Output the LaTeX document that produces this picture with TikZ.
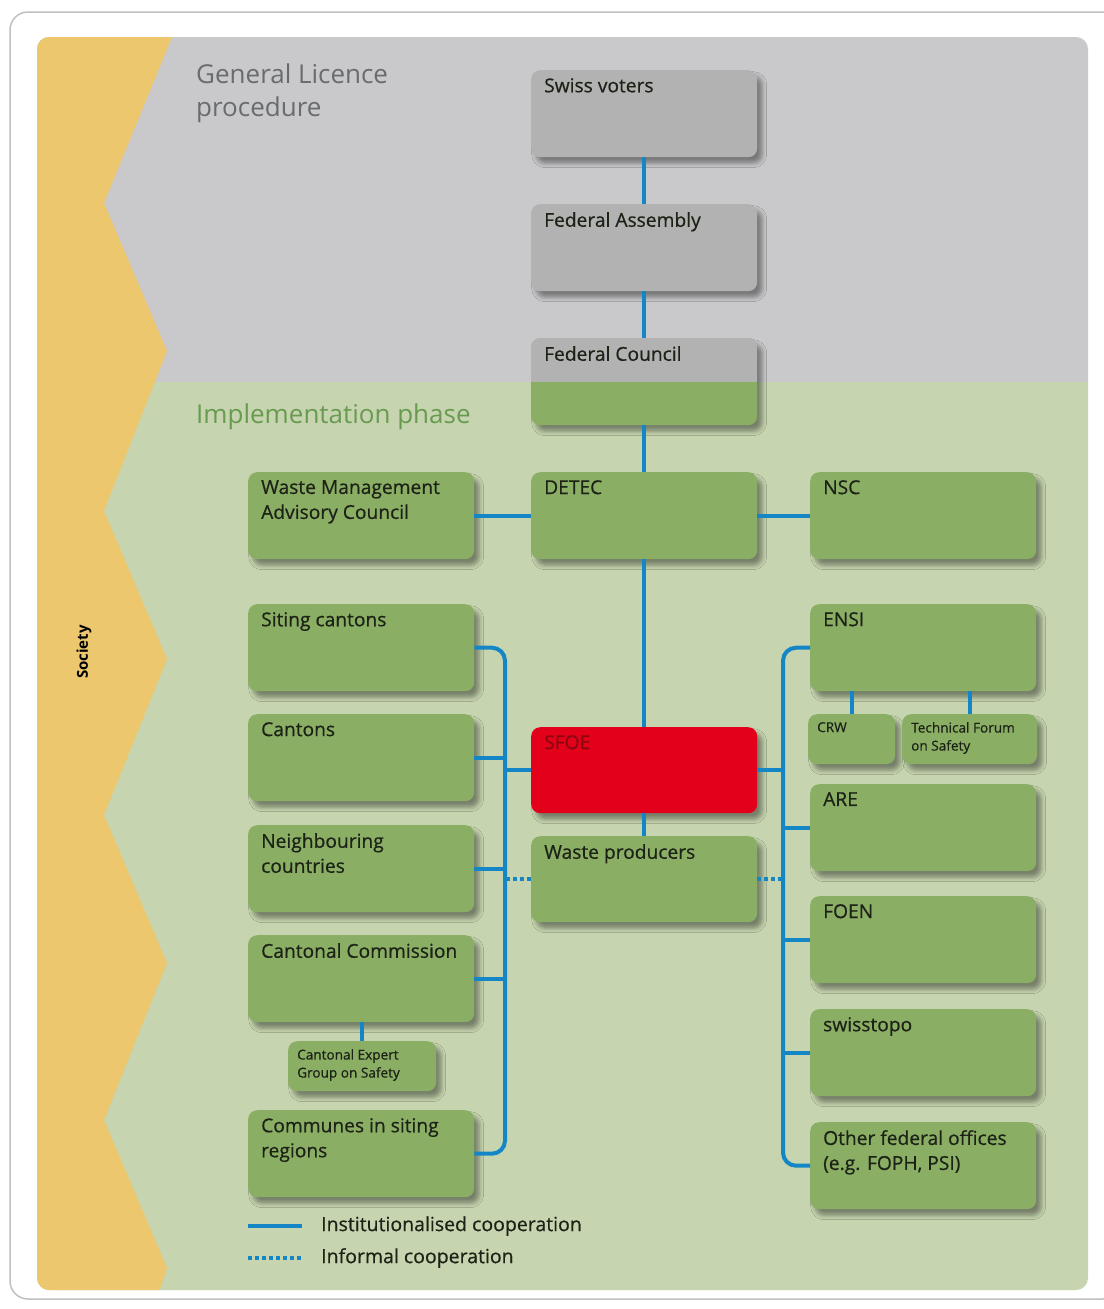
\documentclass[tikz,border=0pt]{standalone}
\usepackage{fontspec}
\setmainfont{Open Sans}
\newfontfamily\medfont{Open Sans}[FakeBold=0.6]
\usetikzlibrary{shadows.blur,calc}
\definecolor{socyellow}{RGB}{236,199,110}
\definecolor{bggray}{RGB}{201,201,203}
\definecolor{bggreen}{RGB}{198,213,175}
\definecolor{boxgray}{RGB}{178,178,178}
\definecolor{boxgreen}{RGB}{139,174,101}
\definecolor{sfoered}{RGB}{226,0,26}
\definecolor{sfoetext}{RGB}{140,6,18}
\definecolor{lineblue}{RGB}{20,134,197}
\definecolor{textdark}{RGB}{28,34,22}
\definecolor{headgray}{RGB}{105,108,110}
\definecolor{headgreen}{RGB}{104,154,80}
\definecolor{framegray}{RGB}{192,192,192}
\newcommand\boxlabel[3]{\node[lbl,#3] (#1-t) at ([shift={(13pt,-8pt)}]#1.north west) {#2};}
\newcommand\smalllabel[2]{\node[slbl] (#1-t) at ([shift={(9pt,-8pt)}]#1.north west) {#2};}
\begin{document}
\begin{tikzpicture}[x=1pt,y=-1pt,
  box/.style={fill=boxgreen, rounded corners=9pt, minimum width=226pt, minimum height=87pt,
    inner sep=0pt, anchor=north west,
    blur shadow={shadow xshift=5pt, shadow yshift=-6pt, shadow blur radius=4.5pt, shadow opacity=40}},
  graybox/.style={box, fill=boxgray},
  redbox/.style={box, fill=sfoered},
  smallbox/.style={box, minimum height=50pt},
  lbl/.style={anchor=north west, inner sep=0pt, align=left, text=textdark,
    font=\medfont\fontsize{19.2}{25}\selectfont},
  slbl/.style={anchor=north west, inner sep=0pt, align=left, text=textdark,
    font=\medfont\fontsize{13.6}{18}\selectfont},
  conn/.style={draw=lineblue, line width=4pt},
  informal/.style={conn, dash pattern=on 4pt off 3pt},
  head/.style={anchor=north west, inner sep=0pt, align=left, font=\fontsize{26}{33}\selectfont},
  legtext/.style={anchor=west, inner sep=0pt, text=textdark, font=\medfont\fontsize{19.5}{22}\selectfont}
]
\useasboundingbox (0,0) rectangle (1103,1309);
% outer frame
\draw[framegray, line width=1.5pt, fill=white, rounded corners=18pt] (10,12) rectangle (1120,1299);
% backgrounds
\begin{scope}
  \clip[rounded corners=12pt] (37,37) rectangle (1088,1290);
  \fill[bggray] (30,30) rectangle (1095,382);
  \fill[bggreen] (30,382) rectangle (1095,1295);
  \fill[socyellow] (30,30) -- (172,30) -- (172,37) -- (104,203) -- (167,351) -- (104,511)
    -- (167,659) -- (104,815) -- (167,963) -- (104,1120) -- (167,1268) -- (158,1295)
    -- (30,1295) -- cycle;
\end{scope}
\coordinate (split) at (0,382);
\node[rotate=90, font=\bfseries\fontsize{15}{16}\selectfont, text=black] (soc) at (84,652) {Society};
\node[head, text=headgray] (h1) at (196,64) {General Licence\\procedure};
\node[head, text=headgreen] (h2) at (196,404) {Implementation phase};

% centre column
\node[graybox] (sv) at (531,70) {};
\node[graybox] (fa) at (531,204) {};
\node[box] (fc) at (531,338) {};
\begin{scope}
  \clip[rounded corners=9pt] (fc.north west) rectangle (fc.south east);
  \fill[boxgray] (fc.north west) rectangle (fc.east |- split);
\end{scope}
\node[box] (detec) at (531,472) {};
\node[redbox, minimum height=86pt] (sfoe) at (531,727) {};
\node[box, minimum height=86pt] (wp) at (531,836) {};
% left column
\node[box] (wmac) at (248,472) {};
\node[box] (sc) at (248,604) {};
\node[box] (ca) at (248,714) {};
\node[box] (nc) at (248,825) {};
\node[box] (cc) at (248,935) {};
\node[smallbox, minimum width=148pt] (ceg) at (288,1041) {};
\node[box] (co) at (248,1110) {};
% right column
\node[box] (nsc) at (810,472) {};
\node[box] (ensi) at (810,604) {};
\node[smallbox, minimum width=87pt] (crw) at (808,714) {};
\node[smallbox, minimum width=135pt] (tfs) at (902,714) {};
\node[box] (are) at (810,784) {};
\node[box] (foen) at (810,896) {};
\node[box] (st) at (810,1009) {};
\node[box] (ofo) at (810,1122) {};

% labels
\boxlabel{sv}{Swiss voters}{}
\boxlabel{fa}{Federal Assembly}{}
\boxlabel{fc}{Federal Council}{}
\boxlabel{detec}{DETEC}{}
\boxlabel{sfoe}{SFOE}{text=sfoetext}
\boxlabel{wp}{Waste producers}{}
\boxlabel{wmac}{Waste Management\\Advisory Council}{}
\boxlabel{sc}{Siting cantons}{}
\boxlabel{ca}{Cantons}{}
\boxlabel{nc}{Neighbouring\\countries}{}
\boxlabel{cc}{Cantonal Commission}{}
\boxlabel{co}{Communes in siting\\regions}{}
\boxlabel{nsc}{NSC}{}
\boxlabel{ensi}{ENSI}{}
\boxlabel{are}{ARE}{}
\boxlabel{foen}{FOEN}{}
\boxlabel{st}{swisstopo}{}
\boxlabel{ofo}{Other federal offices\\(e.g. FOPH, PSI)}{}
\smalllabel{crw}{CRW}
\smalllabel{tfs}{Technical Forum\\on Safety}
\smalllabel{ceg}{Cantonal Expert\\Group on Safety}

% connectors
\coordinate (bl) at (505,0);
\coordinate (br) at (783,0);
\draw[conn] (sv.south) -- (fa.north);
\draw[conn] (fa.south) -- (fc.north);
\draw[conn] (fc.south) -- (detec.north);
\draw[conn] (detec.south) -- (sfoe.north);
\draw[conn] (sfoe.south) -- (wp.north);
\draw[conn] (wmac.east) -- (detec.west);
\draw[conn] (detec.east) -- (nsc.west);
\draw[conn, rounded corners=13pt] (sc.east) -| (bl |- co.east) -- (co.east);
\draw[conn] (ca.east) -- (ca.east -| bl);
\draw[conn] (nc.east) -- (nc.east -| bl);
\draw[conn] (cc.east) -- (cc.east -| bl);
\draw[conn] (sfoe.west) -- (sfoe.west -| bl);
\draw[informal] (wp.west) -- (wp.west -| bl);
\draw[conn] (ceg.north) -- (ceg.north |- cc.south);
\draw[conn, rounded corners=13pt] (ensi.west) -| (br |- ofo.west) -- (ofo.west);
\draw[conn] (sfoe.east) -- (sfoe.east -| br);
\draw[informal] (wp.east) -- (wp.east -| br);
\draw[conn] (are.west) -- (are.west -| br);
\draw[conn] (foen.west) -- (foen.west -| br);
\draw[conn] (st.west) -- (st.west -| br);
\draw[conn] (crw.north) -- (crw.north |- ensi.south);
\draw[conn] (tfs.north) -- (tfs.north |- ensi.south);

% legend
\coordinate (l1a) at (248,1226);
\coordinate (l1b) at (302,1226);
\coordinate (l2a) at (248,1258);
\coordinate (l2b) at (302,1258);
\draw[conn, line width=4.5pt] (l1a) -- (l1b);
\draw[informal, line width=4.5pt] (l2a) -- (l2b);
\node[legtext] (l1t) at (321,1226) {Institutionalised cooperation};
\node[legtext] (l2t) at (321,1258) {Informal cooperation};
\end{tikzpicture}
\end{document}
